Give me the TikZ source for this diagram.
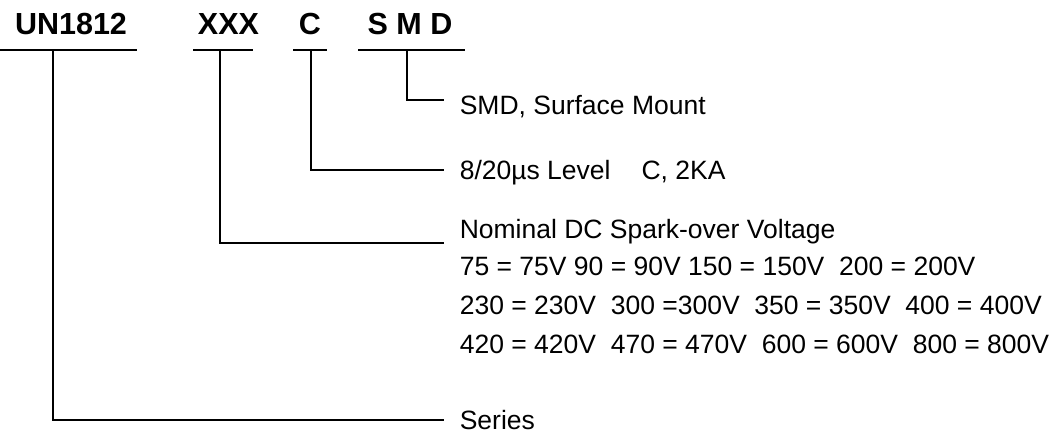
\documentclass[tikz,border=0pt]{standalone}
\usepackage{fontspec}
\setmainfont{Liberation Sans}
\usetikzlibrary{positioning}

\begin{document}
\begin{tikzpicture}[x=1pt, y=-1pt, line width=1.6pt,
    % --- 样式定义 ---
    % 型号代码 (粗体)
    code_text/.style={anchor=base, inner sep=0pt, font=\fontsize{30.5}{34}\selectfont\bfseries},
    % 说明文字
    spec_text/.style={anchor=base west, inner sep=0pt, font=\fontsize{26.5}{30}\selectfont},
    % 引线
    lead_line/.style={draw=black, line cap=rect}
]
    \useasboundingbox (0,0) rectangle (1053,433);

    % =========================================
    % 【顶部】 型号各段 + 下划线
    % =========================================
    \node[code_text] (un)  at (71,35)    {UN1812};
    \node[code_text] (xxx) at (228.5,35) {XXX};
    \node[code_text] (lvl) at (310,35)   {C};
    \node[code_text] (smd) at (410,35)   {S M D};

    \draw (0,50)   -- (137,50);
    \draw (193,50) -- (253,50);
    \draw (293,50) -- (327,50);
    \draw (358,50) -- (465,50);

    % 引线起点
    \coordinate (un_tap)  at (53,50);
    \coordinate (xxx_tap) at (220,50);
    \coordinate (lvl_tap) at (311,50);
    \coordinate (smd_tap) at (407,50);

    % =========================================
    % 【右侧】 说明文字
    % =========================================
    \node[spec_text] (smd_note) at (459,115) {SMD, Surface Mount};
    \node[spec_text] (lvl_note) at (459,179) {8/20µs Level\hspace{31pt}C, 2KA};
    \node[spec_text] (xxx_note) at (459,239) {Nominal DC Spark-over Voltage};
    \node[spec_text] (row_a)    at (459,275) {75 = 75V 90 = 90V 150 = 150V\ \ 200 = 200V};
    \node[spec_text] (row_b)    at (459,314) {230 = 230V\ \ 300 =300V\ \ 350 = 350V\ \ 400 = 400V};
    \node[spec_text] (row_c)    at (459,353) {420 = 420V\ \ 470 = 470V\ \ 600 = 600V\ \ 800 = 800V};
    \node[spec_text] (un_note)  at (459,429) {Series};

    % =========================================
    % 【引线】 竖线下行再右转
    % =========================================
    \draw[lead_line] (smd_tap) |- ([xshift=-16pt, yshift=15pt]smd_note.base west);
    \draw[lead_line] (lvl_tap) |- ([xshift=-16pt, yshift=9pt]lvl_note.base west);
    \draw[lead_line] (xxx_tap) |- ([xshift=-16pt, yshift=-4pt]xxx_note.base west);
    \draw[lead_line] (un_tap)  |- ([xshift=-16pt, yshift=9pt]un_note.base west);

\end{tikzpicture}
\end{document}
